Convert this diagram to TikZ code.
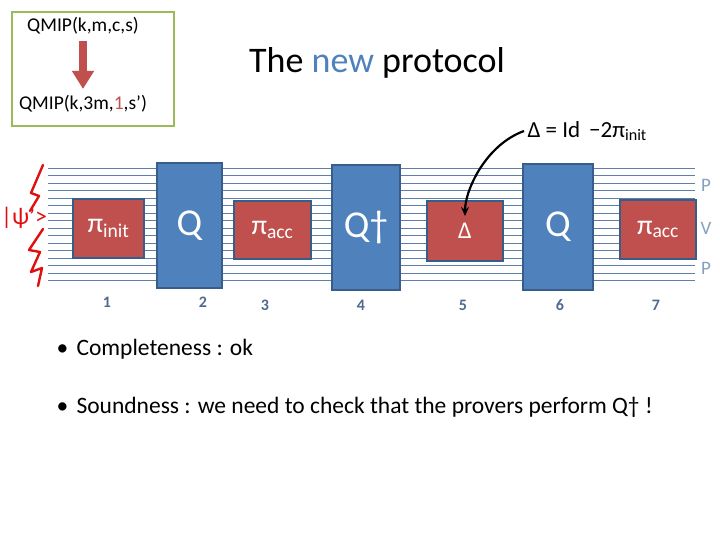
\documentclass[tikz,border=0pt]{standalone}
\usepackage{fontspec}
\setmainfont{Carlito}
\usetikzlibrary{arrows.meta}

\definecolor{boxblue}{HTML}{4F81BD}
\definecolor{boxred}{HTML}{C0504D}
\definecolor{edgeblue}{HTML}{385D8A}
\definecolor{wireblue}{HTML}{5E7FA8}
\definecolor{stepgray}{HTML}{4F6A8F}
\definecolor{framegreen}{HTML}{9BBB59}
\definecolor{ketred}{HTML}{E01010}

\begin{document}
\begin{tikzpicture}[x=1pt,y=-1pt]
\tikzset{
  gatebox/.style={rectangle,draw=edgeblue,line width=2.5pt,inner sep=0pt,text=white},
  unitary/.style={gatebox,fill=boxblue,font=\fontsize{38}{40}\selectfont},
  projector/.style={gatebox,fill=boxred,font=\fontsize{28}{30}\selectfont},
  stepnum/.style={text=stepgray,font=\fontsize{16}{18}\selectfont\bfseries},
  regname/.style={text=wireblue!75,font=\fontsize{19}{20}\selectfont},
  bulletline/.style={anchor=west,font=\fontsize{23.5}{26}\selectfont},
  squiggle/.style={draw=ketred,line width=2.4pt,line join=round,line cap=round}
}
\useasboundingbox (0,0) rectangle (720,540);
% reduction box
\draw[framegreen,line width=2.8pt] (12,12) rectangle (174,126);
\node[font=\fontsize{19.5}{21}\selectfont] (n_qmip) at (83,26) {QMIP(k,m,c,s)};
\node[font=\fontsize{19.5}{21}\selectfont] (n_qmipnew) at (83,104) {QMIP(k,3m,\textcolor{boxred}{1},s’)};
\draw[boxred,line width=8.5pt,-{Triangle[length=18pt,width=21pt]},shorten <=3pt,shorten >=3pt] (n_qmip) -- (n_qmipnew);
% title
\node[font=\fontsize{36}{40}\selectfont] (n_title) at (377,63) {The \textcolor{boxblue}{new} protocol};
% wires
\foreach \i in {0,...,15}
  \draw[wireblue,line width=0.8pt] (48,168+7.5*\i) -- (695,168+7.5*\i);
% gates
\node[projector,minimum width=71pt,minimum height=59pt] (n_init) at (108.5,228.5) {π\textsubscript{init}};
\node[unitary,minimum width=65pt,minimum height=125pt] (n_q1) at (189.5,225.5) {Q};
\node[projector,minimum width=77pt,minimum height=58pt] (n_acc1) at (272.5,230) {π\textsubscript{acc}};
\node[unitary,minimum width=68pt,minimum height=125pt] (n_qdag) at (366,227.5) {Q†};
\node[projector,minimum width=76pt,minimum height=60pt,font=\fontsize{24}{26}\selectfont] (n_delta) at (465,231) {Δ};
\node[unitary,minimum width=70pt,minimum height=126pt] (n_q2) at (558,227) {Q};
\node[projector,minimum width=76pt,minimum height=59pt] (n_acc2) at (658,229.5) {π\textsubscript{acc}};
% step numbers
\node[stepnum] (n_s1) at (107,302) {1};
\node[stepnum] (n_s2) at (203,302) {2};
\node[stepnum] (n_s3) at (265,305) {3};
\node[stepnum] (n_s4) at (361,305) {4};
\node[stepnum] (n_s5) at (463,305) {5};
\node[stepnum] (n_s6) at (560,305) {6};
\node[stepnum] (n_s7) at (656,305) {7};
% registers
\node[regname] (n_p1) at (706,185) {P};
\node[regname] (n_v) at (706,228) {V};
\node[regname] (n_p2) at (706,268) {P};
% initial state
\node[anchor=west,text=ketred,font=\fontsize{24}{26}\selectfont,inner sep=0pt] (n_ket) at (1,218) {|ψ’>};
\draw[squiggle] (43,165) -- (31,193) -- (39,196) -- (30,211);
\draw[squiggle] (43,229) -- (29,250) -- (40,252) -- (31,272) -- (42,268) -- (38,286);
% definition of Delta
\node[anchor=west,font=\fontsize{23}{24}\selectfont] (n_def) at (524,131) {Δ = Id\, −2π\textsubscript{init}};
\draw[line width=2.2pt,-{Stealth[length=9pt,width=8pt]},shorten >=15pt] (n_def.west) to[out=200,in=90,looseness=0.9] (n_delta.center);
% remarks
\node[bulletline] (n_compl) at (53,349) {\makebox[20pt][l]{•}Completeness : ok};
\node[bulletline] (n_sound) at (53,407) {\makebox[20pt][l]{•}Soundness : we need to check that the provers perform Q† !};
\end{tikzpicture}
\end{document}
